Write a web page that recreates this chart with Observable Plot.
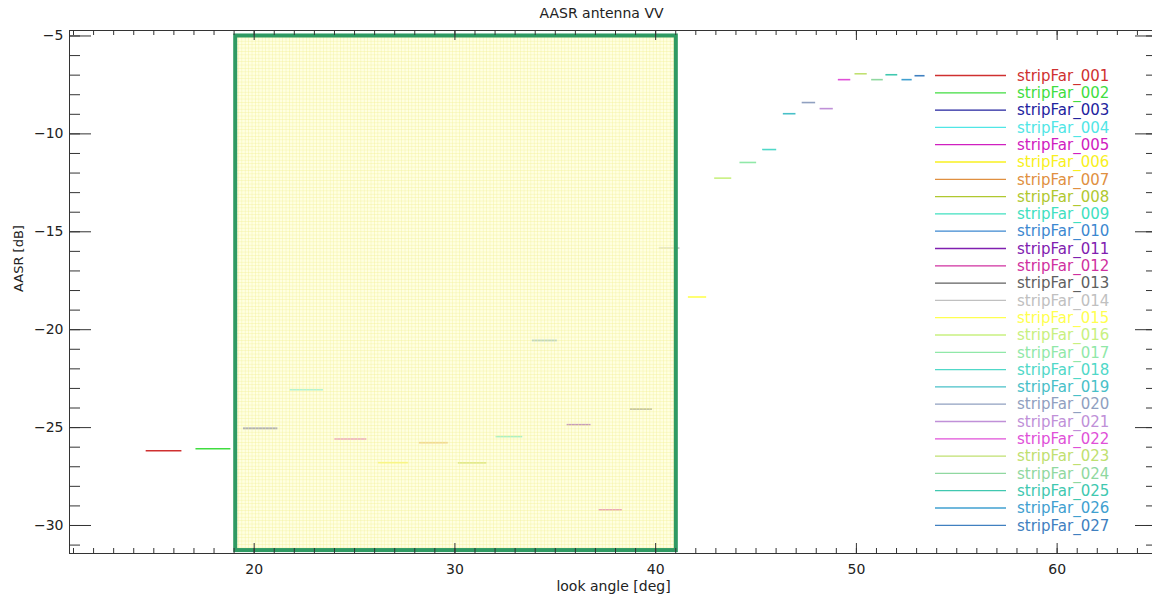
<!DOCTYPE html>
<html><head><meta charset="utf-8">
<script src="https://cdn.jsdelivr.net/npm/d3@7"></script>
<script src="https://cdn.jsdelivr.net/npm/@observablehq/plot@0.6"></script>
<style>body{margin:0;background:#fff;} #chart svg{display:block;overflow:hidden}</style>
</head><body><div id="chart"></div>
<script>
// ---- data ----
const strips = ["stripFar_001","stripFar_002","stripFar_003","stripFar_004","stripFar_005","stripFar_006","stripFar_007","stripFar_008","stripFar_009","stripFar_010","stripFar_011","stripFar_012","stripFar_013","stripFar_014","stripFar_015","stripFar_016","stripFar_017","stripFar_018","stripFar_019","stripFar_020","stripFar_021","stripFar_022","stripFar_023","stripFar_024","stripFar_025","stripFar_026","stripFar_027"];
const lookStart = [14.62,17.10,19.47,21.79,24.02,26.19,28.23,30.17,32.05,33.86,35.59,37.18,38.74,40.18,41.63,42.94,44.20,45.33,46.36,47.30,48.19,49.10,49.93,50.76,51.47,52.27,52.92];
const lookEnd   = [16.40,18.84,21.18,23.45,25.61,27.68,29.67,31.59,33.38,35.10,36.78,38.34,39.84,41.21,42.54,43.79,45.03,46.03,46.99,47.97,48.85,49.72,50.54,51.34,52.06,52.78,53.42];
const aasrDb    = [-26.18,-26.08,-25.04,-23.07,-25.58,-26.79,-25.77,-26.80,-25.46,-20.55,-24.85,-29.20,-24.05,-15.83,-18.33,-12.26,-11.46,-10.80,-8.97,-8.40,-8.71,-7.23,-6.93,-7.23,-6.98,-7.23,-7.03];
const stripColors = ["#cf3030","#40dd40","#22229e","#50e6e6","#d020c0","#f8f020","#e09040","#b0c830","#40e0c0","#3c88d0","#8020b0","#d030a0","#606060","#c0c0c0","#ffff50","#c8f080","#90e8a8","#50d8c8","#48c0c8","#90a0c0","#c090d8","#e050d8","#c0e070","#90d8a0","#40c8b0","#40a0d0","#4080c0"];
const highlight = [{x1: 19.08, x2: 41.03, y1: -31.28, y2: -5.0}];
const xMajor = [20, 30, 40, 50, 60];
const yMajor = [-30, -25, -20, -15, -10, -5];
const xMinor = d3.range(11, 66);
const yMinor = d3.range(-31, -4);
const titleText = "AASR antenna VV";
const xLabel = "look angle [deg]";
const yLabel = "AASR [dB]";

// ---- layout ----
const W = 1152, H = 597, mL = 69, mR = -5, mT = 30, mB = 44;
const fw = W - mL - mR, fh = H - mT - mB;
const font = "'DejaVu Sans', sans-serif";
const axisColor = "#333";

const rows = strips.map((s, i) => ({strip: s, x1: lookStart[i], x2: lookEnd[i], y: aasrDb[i], color: stripColors[i]}));

const plot = Plot.plot({
  width: W, height: H,
  marginLeft: mL, marginRight: mR, marginTop: mT, marginBottom: mB,
  x: {domain: [10.8, 65.0], label: null},
  y: {domain: [-31.43, -4.72], label: null},
  style: {fontFamily: font, fontSize: "14px", color: "#222", background: "white"},
  marks: [
    Plot.ruleY(rows, {y: "y", x1: "x1", x2: "x2", stroke: "color", strokeWidth: 1.6}),
    Plot.rect(highlight, {x1: "x1", x2: "x2", y1: "y1", y2: "y2", fill: "#ffff99", fillOpacity: 0.5}),
    Plot.rect(highlight, {x1: "x1", x2: "x2", y1: "y1", y2: "y2", fill: "none", stroke: "#2f9a63", strokeWidth: 4}),
    Plot.frame({stroke: axisColor}),
    // y ticks, inward, left & right
    Plot.tickY(yMajor, {y: d => d, insetRight: fw - 22, stroke: axisColor}),
    Plot.tickY(yMinor, {y: d => d, insetRight: fw - 11, stroke: axisColor}),
    Plot.tickY(yMajor, {y: d => d, insetLeft: fw - 22, stroke: axisColor}),
    Plot.tickY(yMinor, {y: d => d, insetLeft: fw - 11, stroke: axisColor}),
    // x ticks, inward, bottom & top
    Plot.tickX(xMajor, {x: d => d, insetTop: fh - 10, stroke: axisColor}),
    Plot.tickX(xMinor, {x: d => d, insetTop: fh - 5, stroke: axisColor}),
    Plot.tickX(xMajor, {x: d => d, insetBottom: fh - 10, stroke: axisColor}),
    Plot.tickX(xMinor, {x: d => d, insetBottom: fh - 5, stroke: axisColor}),
    Plot.axisX(xMajor, {anchor: "bottom", tickSize: 0, tickPadding: 11, label: null, fontSize: 14}),
    Plot.axisY(yMajor, {anchor: "left", tickSize: 0, tickPadding: 6, label: null, fontSize: 14}),
    Plot.text([titleText], {frameAnchor: "top", dy: -17, dx: -12, lineAnchor: "middle", fontSize: 14, fill: "#222"}),
    Plot.text([xLabel], {frameAnchor: "bottom", dy: 33, lineAnchor: "middle", fontSize: 14, fill: "#222"}),
    Plot.text([yLabel], {frameAnchor: "left", dx: -51, rotate: -90, lineAnchor: "middle", fontSize: 13, fill: "#222"})
  ]
});

const svg = d3.select(plot);
// grid pattern for the highlighted look-angle band
const defs = svg.insert("defs", ":first-child");
const pat = defs.append("pattern").attr("id", "gridfill").attr("patternUnits", "userSpaceOnUse")
  .attr("width", 3.4).attr("height", 3.4);
pat.append("rect").attr("width", 3.4).attr("height", 3.4).attr("fill", "rgba(255,255,200,0.55)");
pat.append("path").attr("d", "M0 0.4H3.4M0.4 0V3.4").attr("stroke", "rgba(242,240,150,0.55)").attr("stroke-width", 0.7);
svg.selectAll("g[aria-label='rect']").filter((d, i, n) => d3.select(n[i]).attr("fill") === "#ffff99")
  .attr("fill", "url(#gridfill)").attr("fill-opacity", null);

// legend (inside plot area, top right)
const lg = svg.append("g").attr("font-family", font).attr("font-size", 15).attr("text-anchor", "start");
rows.forEach((r, i) => {
  const yy = 75.5 + i * 17.3;
  lg.append("line").attr("x1", 935).attr("x2", 1006).attr("y1", yy).attr("y2", yy)
    .attr("stroke", r.color).attr("stroke-width", 1.3);
  lg.append("text").attr("x", 1017).attr("y", yy).attr("dy", "0.35em").attr("text-anchor", "start")
    .attr("fill", r.color).text(r.strip);
});

document.getElementById("chart").appendChild(plot);
</script>
</body></html>
